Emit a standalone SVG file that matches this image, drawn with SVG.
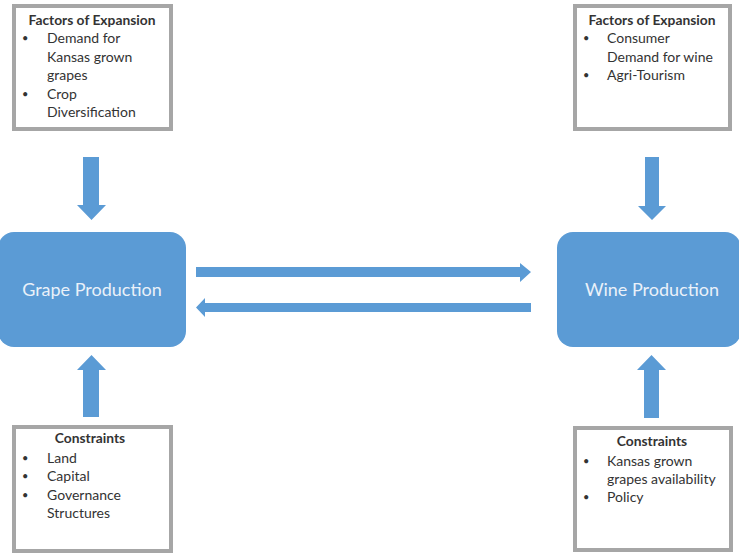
<svg xmlns="http://www.w3.org/2000/svg" width="739" height="555" viewBox="0 0 739 555">
<style>
.box{fill:#fff;stroke:#a6a6a6;stroke-width:4}
.proc{fill:#5b9bd5}
.arr{fill:#5b9bd5}
.t{font-family:Lato,"Liberation Sans",sans-serif;font-size:14px;fill:#333}
.b{font-family:Lato,"Liberation Sans",sans-serif;font-size:11px;fill:#333}
.h{font-weight:bold;text-anchor:middle;font-size:13.8px}
.p{font-family:Lato,"Liberation Sans",sans-serif;font-size:18px;fill:#eaf1f9;text-anchor:middle}
</style>
<rect width="739" height="555" fill="#fff"/>
<g id="connectors">
<polygon class="arr" points="83,157 99,157 99,205 106,205 91.5,220 77,205 83,205"/>
<polygon class="arr" points="645,157 659,157 659,206 666,206 652,220 638,206 645,206"/>
<polygon class="arr" points="91.5,355 106,370 99,370 99,417 83,417 83,370 77,370"/>
<polygon class="arr" points="651.5,355 666,370 659,370 659,418 644,418 644,370 637,370"/>
<polygon class="arr" points="196,267 520,267 520,263 531,272 520,282 520,277 196,277"/>
<polygon class="arr" points="196,307.5 205,298 205,303 531,303 531,312 205,312 205,317"/>
</g>
<g id="factors-left">
<rect class="box" x="14" y="6" width="157" height="123"/>
<text class="t h" x="92" y="25">Factors of Expansion</text>
<text class="b" x="22" y="42">•</text><text class="t" x="47" y="43">Demand for</text>
<text class="t" x="47" y="62">Kansas grown</text>
<text class="t" x="47" y="80">grapes</text>
<text class="b" x="22" y="98">•</text><text class="t" x="47" y="99">Crop</text>
<text class="t" x="47" y="117">Diversification</text>
</g>
<g id="factors-right">
<rect class="box" x="575" y="6" width="155" height="123"/>
<text class="t h" x="652" y="25">Factors of Expansion</text>
<text class="b" x="583" y="42">•</text><text class="t" x="607" y="43">Consumer</text>
<text class="t" x="607" y="62">Demand for wine</text>
<text class="b" x="583" y="79">•</text><text class="t" x="607" y="80">Agri-Tourism</text>
</g>
<g id="grape-production">
<rect class="proc" x="-2" y="232" width="188" height="115" rx="16"/>
<text class="p" x="92" y="296">Grape Production</text>
</g>
<g id="wine-production">
<rect class="proc" x="557" y="232" width="184" height="115" rx="16"/>
<text class="p" x="652" y="296">Wine Production</text>
</g>
<g id="constraints-left">
<rect class="box" x="14" y="427" width="157" height="124"/>
<text class="t h" x="90" y="443">Constraints</text>
<text class="b" x="22" y="462">•</text><text class="t" x="47" y="463">Land</text>
<text class="b" x="22" y="480">•</text><text class="t" x="47" y="481">Capital</text>
<text class="b" x="22" y="499">•</text><text class="t" x="47" y="500">Governance</text>
<text class="t" x="47" y="518">Structures</text>
</g>
<g id="constraints-right">
<rect class="box" x="575" y="428" width="156" height="122"/>
<text class="t h" x="652" y="446">Constraints</text>
<text class="b" x="583" y="465">•</text><text class="t" x="607" y="466">Kansas grown</text>
<text class="t" x="607" y="484">grapes availability</text>
<text class="b" x="583" y="501">•</text><text class="t" x="607" y="502">Policy</text>
</g>
</svg>
